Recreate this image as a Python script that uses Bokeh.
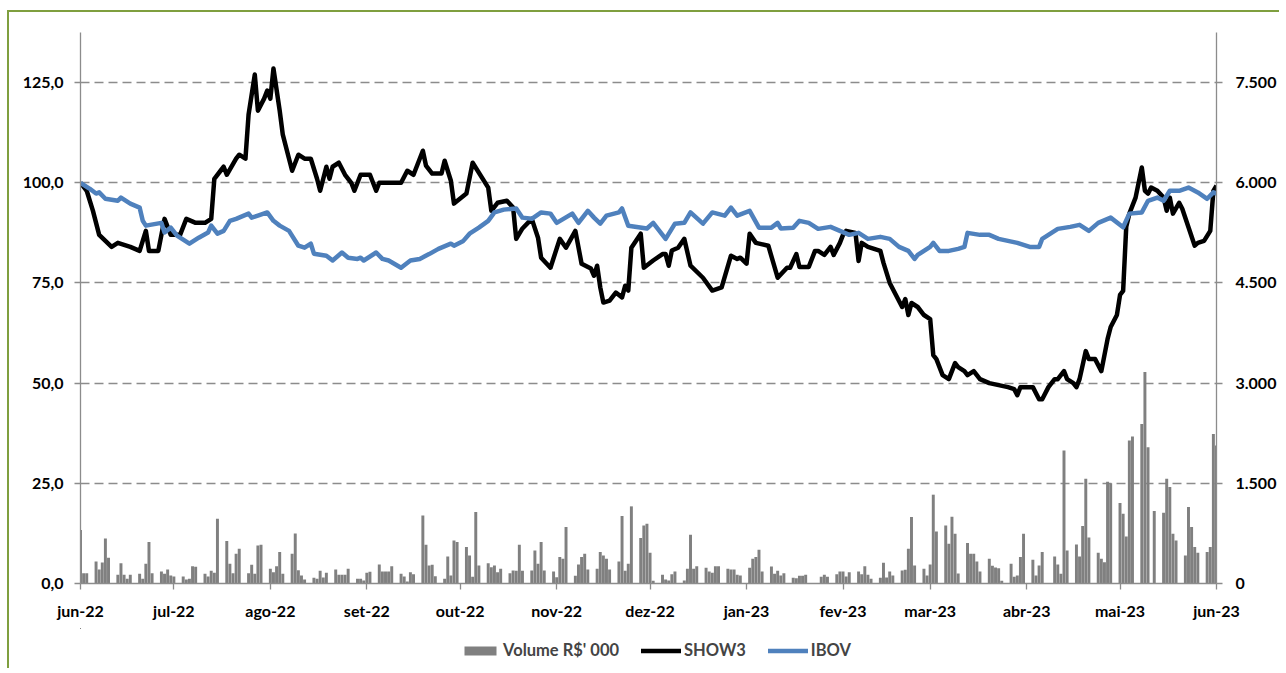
import pandas as pd
from bokeh.plotting import figure
from bokeh.layouts import column
from bokeh.models import Range1d, LinearAxis, FixedTicker, Legend, LegendItem, ColumnDataSource
from bokeh.embed import file_html
from bokeh.resources import INLINE

START = "2022-06-01"
END = "2023-06-01"

month_labels = ["jun-22", "jul-22", "ago-22", "set-22", "out-22", "nov-22", "dez-22",
                "jan-23", "fev-23", "mar-23", "abr-23", "mai-23", "jun-23"]
left_ticks = [0, 25, 50, 75, 100, 125]
left_labels = ["0,0", "25,0", "50,0", "75,0", "100,0", "125,0"]
right_ticks = [0, 1500, 3000, 4500, 6000, 7500]
right_labels = ["0", "1.500", "3.000", "4.500", "6.000", "7.500"]
series_names = ["Volume R$' 000", "SHOW3", "IBOV"]

# Volume R$' 000, one list per trading week (Mon..Fri)
volume_weeks = [
    [800, 155, 155],
    [330, 210, 315, 675, 385],
    [130, 305, 130, 70, 130],
    [145, 70, 295, 620, 155],
    [180, 145, 210, 120, 105],
    [105, 60, 70, 260, 250],
    [145, 105, 190, 160, 970],
    [635, 295, 155, 445, 520],
    [155, 280, 145, 570, 580],
    [220, 170, 260, 470, 145],
    [445, 750, 200, 120, 60],
    [85, 70, 190, 90, 160],
    [210, 130, 130, 130, 220],
    [70, 70, 45, 160, 175],
    [285, 180, 180, 180, 260],
    [145, 105, 30, 170, 140],
    [1020, 580, 270, 280, 110],
    [70, 405, 120, 645, 620],
    [545, 420, 100, 1070, 270],
    [305, 245, 270, 170, 220],
    [155, 195, 190, 580, 190],
    [195, 495, 295, 620, 195],
    [180, 95, 395, 370, 845],
    [115, 285, 395, 445, 210],
    [220, 470, 420, 370, 210],
    [330, 1010, 190, 295, 1155],
    [680, 870, 895, 460, 40],
    [130, 60, 45, 140, 180],
    [45, 220, 730, 220, 260],
    [235, 180, 160, 260, 260],
    [220, 210, 210, 130, 120],
    [235, 370, 395, 505, 180],
    [255, 145, 190, 120, 155],
    [85, 80, 115, 115, 130],
    [0, 0, 100, 130, 100],
    [140, 180, 180, 105, 170],
    [180, 140, 260, 130, 70],
    [85, 310, 90, 180, 120],
    [195, 205, 520, 995, 270],
    [220, 120, 285, 1330, 780],
    [870, 595, 1000, 745, 150],
    [605, 445, 445, 330, 180],
    [370, 265, 240, 230, 40],
    [295, 100, 120, 395, 745],
    [355, 120, 270, 470, 0],
    [405, 285, 145, 1990, 495],
    [585, 405, 860, 1570, 690],
    [460, 370, 320, 1525, 1500],
    [1205, 1045, 705, 2140, 2200],
    [2390, 3165, 2040, 0, 1085],
    [1060, 1570, 1445, 745, 645],
    [420, 1145, 845, 545, 460],
    [470, 545, 2240, 2065],
]

# SHOW3 (base 100): day offset from START, value
show3_day = [0, 2, 4, 6, 10, 12, 16, 19, 21, 22, 25, 27, 29, 32, 34, 37, 40, 42, 43, 45,
             46, 47, 50, 51, 53, 54, 56, 57, 59, 60, 61, 62, 64, 65, 67, 68, 70, 72, 74, 76,
             77, 79, 80, 81, 83, 85, 87, 88, 90, 93, 95, 96, 99, 103, 105, 107, 110, 111, 113, 116,
             117, 119, 120, 124, 126, 131, 132, 134, 137, 139, 140, 142, 145, 147, 148, 151, 154, 156, 159, 161,
             164, 165, 166, 167, 168, 170, 172, 174, 175, 176, 177, 180, 181, 184, 187, 188, 189, 190, 192, 194,
             196, 200, 203, 206, 209, 211, 212, 214, 215, 217, 221, 224, 227, 228, 230, 231, 233, 234, 236, 237,
             239, 241, 242, 244, 245, 246, 249, 250, 251, 253, 257, 258, 260, 262, 264, 265, 266, 267, 269, 271,
             273, 274, 275, 277, 279, 281, 282, 284, 285, 287, 289, 292, 295, 298, 300, 301, 302, 305, 306, 308,
             309, 311, 313, 314, 316, 317, 319, 320, 321, 323, 324, 326, 328, 330, 331, 333, 334, 335, 336, 337,
             339, 341, 342, 343, 344, 346, 348, 349, 350, 351, 353, 354, 356, 358, 359, 361, 363, 364, 365]
show3 = [100, 98, 93, 87, 84, 85, 84, 83, 88, 83, 83, 91, 87, 87, 91, 90, 90, 91, 101, 103,
         104, 102, 106, 107, 106, 117, 127, 118, 121, 123, 121, 128.5, 118, 112, 106, 103, 107, 106, 106, 101,
         98, 104, 101, 104, 105, 102, 100, 98, 102, 102, 98, 100, 100, 100, 103, 102, 108, 104.3, 102.3, 102.3,
         105.5, 100.5, 94.8, 97.3, 105, 98.8, 93, 95, 95.5, 93.8, 86, 88.6, 91, 86.3, 81.3, 78.8, 86, 83.8, 88, 79.8,
         78.6, 76.8, 79.3, 73.9, 70.1, 70.6, 72.6, 71.4, 74.3, 73.1, 83.8, 87.3, 78.8, 80.6, 82.2, 82.2, 79.3, 83.1, 83.8, 86,
         79.3, 76.3, 73.1, 73.9, 81.8, 81, 81.3, 79.8, 87.3, 85, 84.3, 76.3, 78.8, 78.8, 82.2, 79, 79, 79, 83, 83,
         82, 84, 82, 85, 87, 88, 87.5, 80.5, 85, 84, 83, 80, 75, 72, 69, 71, 67, 70, 69, 67,
         66, 57, 56, 52, 51, 55, 54, 53, 52, 53, 51, 50, 49.5, 49, 48.5, 47, 49, 49, 49, 46,
         46, 49, 51, 51, 53, 51, 50, 49, 51, 58, 56, 56, 53, 61, 64, 67, 72, 73, 89, 92.3,
         96.3, 103.8, 98, 97.3, 98.8, 98, 96.3, 93, 96.3, 92.3, 95, 93.5, 88.9, 84.3, 85, 85.5, 88, 98, 99.3]

# IBOV (base 100): day offset from START, value
ibov_day = [0, 3, 5, 6, 8, 12, 13, 16, 19, 20, 21, 26, 27, 29, 31, 35, 38, 41, 42, 44,
            46, 48, 50, 54, 55, 57, 60, 62, 64, 67, 70, 72, 74, 75, 79, 81, 84, 86, 89, 90,
            91, 95, 97, 99, 103, 106, 109, 112, 115, 119, 120, 123, 125, 128, 131, 133, 136, 140, 142, 145,
            148, 151, 153, 158, 160, 163, 165, 167, 169, 173, 174, 176, 182, 184, 188, 191, 194, 196, 200, 203,
            207, 209, 211, 215, 218, 222, 224, 225, 229, 231, 234, 237, 241, 244, 247, 250, 253, 257, 260, 263,
            266, 268, 269, 273, 274, 276, 279, 282, 284, 285, 289, 292, 295, 298, 301, 305, 308, 309, 311, 314,
            318, 321, 324, 327, 331, 335, 337, 341, 343, 346, 348, 350, 353, 356, 359, 362, 364, 365]
ibov = [100, 98.5, 97.3, 97.6, 96, 95.5, 96.3, 94.8, 93.8, 90.5, 89.3, 90, 87.6, 88.8, 86.8, 84.8, 86.3, 87.6, 89.3, 87.3,
        88, 90.5, 91, 92.3, 91.3, 91.8, 92.6, 90.5, 89.3, 88, 84.3, 83.8, 84.8, 82.3, 81.8, 80.6, 82.6, 81.3, 81, 81.3,
        80.6, 82.6, 81, 80.6, 78.8, 80.6, 81, 82.2, 83.5, 84.8, 84.3, 85.5, 87.3, 88.8, 90.5, 92.6, 93.3, 93.6, 91.3, 91,
        92.6, 92.3, 90, 92.3, 90, 93, 91.3, 89.8, 91.8, 92.6, 93.6, 89.3, 88.6, 90, 86, 89.8, 90, 92.6, 89.8, 92.6,
        91.8, 93.8, 91.8, 93, 88.8, 88.8, 90, 88.6, 88.8, 90.5, 90, 88.5, 89, 88, 87, 87.5, 86, 86.5, 86, 84,
        83, 81, 82, 84, 85, 83, 83, 83.5, 84, 87.5, 87, 87, 86, 85.5, 85, 84, 84, 86, 87, 88.5,
        89, 89.5, 88, 90, 91.3, 88.9, 92.3, 92.6, 95.5, 96.3, 95.5, 98, 98, 98.8, 97.6, 96, 97.6, 97.3]

start = pd.Timestamp(START)
end = pd.Timestamp(END)
vol_dates = pd.bdate_range(START, END)
volume = [v for wk in volume_weeks for v in wk]
assert len(volume) == len(vol_dates), (len(volume), len(vol_dates))
assert len(show3_day) == len(show3), (len(show3_day), len(show3))
assert len(ibov_day) == len(ibov), (len(ibov_day), len(ibov))
show3_dates = [start + pd.Timedelta(days=d) for d in show3_day]
ibov_dates = [start + pd.Timedelta(days=d) for d in ibov_day]

month_starts = pd.date_range(START, END, freq="MS")
month_ms = [int(t.value // 10**6) for t in month_starts]

src_vol = ColumnDataSource(dict(x=list(vol_dates), top=volume))
src_show = ColumnDataSource(dict(x=show3_dates, y=show3))
src_ibov = ColumnDataSource(dict(x=ibov_dates, y=ibov))

FONT = "Lato"
GRID = "#8C8C8C"
BAR = "#808080"
BLUE = "#4F81BD"
W = 1270
day_ms = 86400000

p = figure(width=W, height=616, x_axis_type="datetime",
           x_range=Range1d(start, end), y_range=Range1d(0, 137.5),
           output_backend="svg", toolbar_location=None,
           min_border_left=71, min_border_right=61, min_border_top=20, min_border_bottom=45)
p.extra_y_ranges = {"vol": Range1d(0, 8250)}
p.outline_line_color = None
p.background_fill_color = "white"
p.border_fill_color = "white"

p.vbar(x="x", top="top", source=src_vol, width=0.95 * day_ms, y_range_name="vol",
       fill_color=BAR, line_color=None)
p.line("x", "y", source=src_show, line_color="black", line_width=4.5, line_join="round")
p.line("x", "y", source=src_ibov, line_color=BLUE, line_width=4.5, line_join="round")

right = LinearAxis(y_range_name="vol")
p.add_layout(right, "right")

for ax in [p.xaxis[0], p.yaxis[0], right]:
    ax.axis_line_color = GRID
    ax.axis_line_width = 1.3
    ax.major_tick_line_color = GRID
    ax.major_tick_line_width = 1.3
    ax.major_tick_in = 0
    ax.major_tick_out = 6
    ax.minor_tick_line_color = None
    ax.major_label_text_font = FONT
    ax.major_label_text_font_style = "bold"
    ax.major_label_text_font_size = "16px"
    ax.major_label_text_color = "black"

p.yaxis[0].ticker = FixedTicker(ticks=left_ticks)
p.yaxis[0].major_label_overrides = dict(zip(left_ticks, left_labels))
p.yaxis[0].major_label_standoff = 11
right.ticker = FixedTicker(ticks=right_ticks)
right.major_label_overrides = dict(zip(right_ticks, right_labels))
right.major_label_standoff = 13
p.xaxis[0].ticker = FixedTicker(ticks=month_ms)
p.xaxis[0].major_label_overrides = dict(zip(month_ms, month_labels))
p.xaxis[0].major_label_standoff = 11

p.xgrid.visible = False
p.ygrid.ticker = FixedTicker(ticks=left_ticks[1:])
p.ygrid.grid_line_color = GRID
p.ygrid.grid_line_width = 1.5
p.ygrid.grid_line_dash = "9 5"

# legend strip below the chart: same series sources, viewed through ranges that hold none of the data
lg = figure(width=W, height=40,
            x_range=Range1d(pd.Timestamp("2040-01-01"), pd.Timestamp("2041-01-01")),
            y_range=Range1d(-10000, -9990), x_axis_type="datetime",
            output_backend="svg", toolbar_location=None,
            x_axis_location=None, y_axis_location=None,
            min_border_left=0, min_border_right=0, min_border_top=0, min_border_bottom=0)
lg.outline_line_color = None
lg.xgrid.visible = False
lg.ygrid.visible = False
r_bar = lg.vbar(x="x", top="top", source=src_vol, width=day_ms, bottom=1,
                fill_color=BAR, line_color=None)
r_show = lg.line("x", "y", source=src_show, line_color="black", line_width=4.5, line_cap="round")
r_ibov = lg.line("x", "y", source=src_ibov, line_color=BLUE, line_width=4.5, line_cap="round")
legend = Legend(items=[LegendItem(label=series_names[0], renderers=[r_bar]),
                       LegendItem(label=series_names[1], renderers=[r_show]),
                       LegendItem(label=series_names[2], renderers=[r_ibov])],
                orientation="horizontal", location=(380, 8),
                border_line_color=None, background_fill_alpha=0,
                label_text_font=FONT, label_text_font_style="bold",
                label_text_font_size="16.5px", glyph_width=40, glyph_height=11,
                label_standoff=3, spacing=22, padding=0, margin=0)
lg.add_layout(legend)

layout = column(p, lg, spacing=0)
layout.styles = {"margin-left": "7px", "margin-top": "10px",
                 "border-left": "2px solid #7F9F3F", "border-top": "2px solid #7F9F3F"}

open("out.html", "w").write(file_html(layout, INLINE))
